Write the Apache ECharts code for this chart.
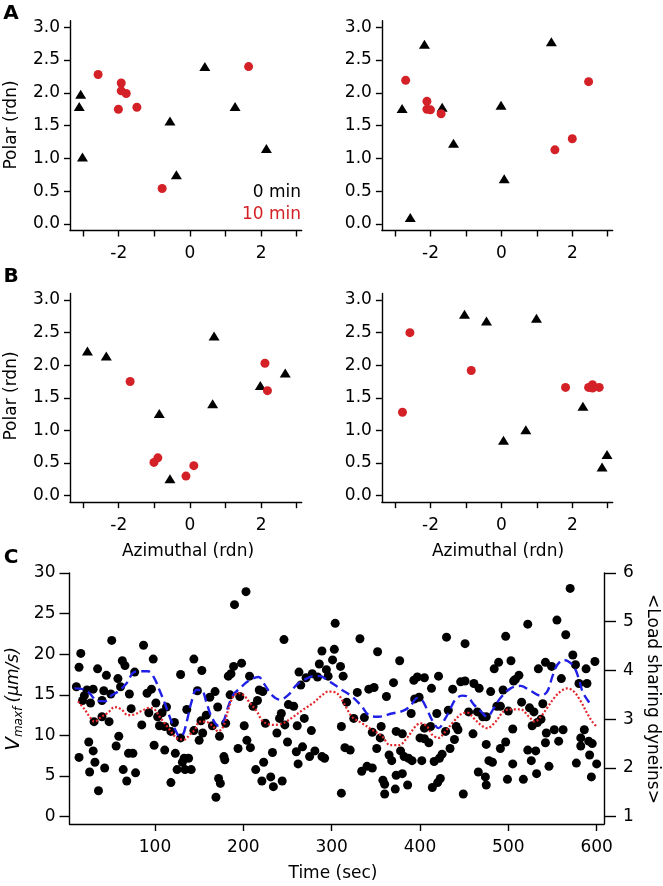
<!DOCTYPE html>
<html><head><meta charset="utf-8">
<script src="https://cdn.jsdelivr.net/npm/echarts@6/dist/echarts.min.js"></script>
<style>html,body{margin:0;padding:0;background:#fff}#c{width:663px;height:886px}</style>
</head><body><div id="c"></div>
<script>
// ---------- DATA ----------
// Panel A (left / right): [azimuthal, polar]
const aLeft0min  = [[-3.07,1.98],[-3.11,1.79],[-3.02,1.02],[0.42,2.40],[-0.56,1.57],[-0.38,0.75],[1.27,1.79],[2.15,1.15]];
const aLeft10min = [[-2.58,2.28],[-1.93,2.15],[-1.93,2.03],[-1.79,1.99],[-2.01,1.75],[-1.49,1.78],[-0.78,0.54],[1.65,2.40]];
const aRight0min  = [[-2.17,2.74],[-2.80,1.76],[-2.57,0.10],[-1.67,1.78],[-1.35,1.23],[-0.01,1.81],[0.08,0.69],[1.41,2.78]];
const aRight10min = [[-2.70,2.19],[-2.10,1.87],[-2.10,1.75],[-2.00,1.74],[-1.70,1.68],[1.51,1.13],[2.00,1.30],[2.46,2.17]];
// Panel B
const bLeft0min  = [[-2.88,2.22],[-2.35,2.14],[-0.86,1.26],[-0.56,0.26],[0.68,2.45],[0.64,1.41],[1.98,1.69],[2.68,1.88]];
const bLeft10min = [[-1.68,1.75],[-1.01,0.51],[-0.90,0.58],[-0.11,0.30],[0.11,0.46],[2.11,2.03],[2.18,1.61]];
const bRight0min  = [[-1.04,2.78],[-0.42,2.68],[0.99,2.72],[0.06,0.85],[0.69,1.01],[2.30,1.37],[2.84,0.44],[2.98,0.63]];
const bRight10min = [[-2.58,2.50],[-2.79,1.28],[-0.85,1.92],[1.81,1.66],[2.46,1.66],[2.57,1.70],[2.57,1.65],[2.76,1.66]];

const polarTicks = [0,0.5,1,1.5,2,2.5,3];
const aziTicks = [-3,-2,-1,0,1,2,3];
const aziLabels = [-2,0,2];

// Panel C: [time (sec), Vmaxf (um/s)]
const vmaxPoints = [
[51,21.7],[16,20.1],[14,18.4],[87,21.1],[98,19.4],[63,19.2],[66,18.6],[35,18.2],[45,17.4],[58,17.0],[77,17.8],[11,16.0],[23,15.6],[30,15.7],[42,15.5],[50,15.1],[61,16.0],[20,14.9],[18,14.3],[27,14.0],[40,14.3],[71,15.1],[96,15.7],[91,15.2],[73,13.3],[101,14.0],[93,12.8],[40,12.3],[31,11.7],[48,11.7],[85,11.3],[113,13.5],[108,12.8],[103,12.3],[105,11.2],[111,11.1],[122,11.6],[118,10.5],[129,17.5],[144,19.4],[153,18.0],[148,15.5],[136,13.2],[152,11.8],[144,10.6],[154,10.3],[150,9.4],[129,9.7],[25,9.2],[59,9.9],[56,8.7],[99,8.8],[111,8.2],[30,8.1],[14,7.3],[70,7.8],[75,7.8],[123,7.8],[133,7.2],[138,7.2],[32,6.7],[131,6.7],[26,5.5],[43,6.0],[64,5.8],[78,5.4],[68,4.4],[125,5.8],[134,5.8],[141,5.8],[36,3.2],[118,4.2],
[203,27.7],[190,26.1],[246,21.8],[304,23.8],[289,20.4],[303,20.6],[301,19.3],[286,18.8],[294,18.1],[296,17.3],[198,18.9],[189,18.5],[186,17.6],[183,17.3],[207,17.3],[263,17.8],[271,17.1],[278,17.6],[284,17.2],[265,16.2],[168,15.4],[162,14.7],[185,15.0],[196,14.8],[218,15.6],[222,15.4],[216,14.3],[211,13.6],[251,13.8],[257,13.6],[171,13.5],[158,12.5],[243,12.7],[241,12.1],[269,12.1],[165,11.2],[180,11.5],[201,11.2],[225,11.5],[247,11.3],[261,11.2],[277,10.6],[173,9.9],[238,10.3],[250,9.2],[204,9.4],[208,8.5],[194,8.4],[267,8.6],[260,8.0],[281,8.1],[275,7.4],[289,7.4],[292,7.2],[233,7.9],[178,7.4],[179,7.0],[223,6.7],[214,5.8],[262,6.5],[231,4.9],[221,4.4],[244,4.4],[234,3.7],[172,4.7],[174,4.1],[169,2.4],
[332,21.9],[430,22.1],[451,21.3],[352,20.3],[377,19.2],[310,18.5],[313,17.3],[370,16.5],[393,16.8],[397,17.2],[405,17.1],[421,17.3],[413,15.8],[437,15.7],[446,16.6],[451,16.7],[342,15.7],[348,15.9],[329,15.3],[362,14.8],[394,14.5],[399,14.7],[317,14.1],[390,12.7],[419,12.7],[432,13.1],[455,12.9],[337,12.2],[325,12.1],[311,11.1],[356,11.1],[346,10.4],[355,9.7],[373,10.5],[380,10.2],[405,10.9],[412,11.1],[429,10.5],[441,11.1],[443,10.7],[439,9.5],[400,9.7],[405,9.6],[410,9.1],[315,8.5],[321,8.2],[351,8.4],[378,8.1],[365,7.6],[368,6.9],[382,7.4],[387,7.2],[391,6.9],[402,6.9],[416,6.8],[422,7.2],[425,7.7],[434,8.4],[340,6.2],[346,6.0],[334,5.6],[373,5.1],[380,5.3],[358,4.5],[360,4.0],[386,3.9],[372,3.4],[423,4.7],[420,4.2],[414,3.6],[311,2.9],[360,2.8],[449,2.8],
[570,28.1],[555,24.2],[522,23.7],[565,22.4],[497,22.2],[489,19.0],[484,18.2],[503,19.2],[542,19.0],[549,18.5],[534,18.2],[573,19.9],[576,18.7],[588,18.2],[598,19.1],[560,17.0],[580,16.4],[589,16.4],[512,17.4],[508,16.9],[506,16.7],[461,16.4],[467,15.8],[480,15.4],[494,15.6],[515,14.1],[539,13.9],[524,13.4],[529,12.9],[487,13.6],[491,13.6],[500,13.0],[465,12.9],[471,12.3],[475,12.3],[537,12.0],[533,11.6],[527,11.2],[505,10.8],[460,10.2],[543,10.3],[552,10.7],[562,10.7],[586,10.7],[582,9.7],[591,9.3],[595,9.0],[542,9.1],[557,9.3],[497,9.2],[491,8.4],[475,8.9],[522,8.2],[531,8.1],[582,8.7],[592,7.6],[526,6.9],[478,6.9],[482,6.7],[505,6.5],[546,6.2],[577,6.6],[600,6.5],[466,5.5],[474,4.9],[475,3.9],[499,4.6],[517,4.6],[532,5.3],[594,4.9]
];
// curves, in left-axis units (Vmaxf scale)
const blueDashed = [[9,15.8],[18.5,15.7],[26,15.2],[33.6,14.3],[43,14.2],[50.6,14.9],[58,15.4],[67.6,16.4],[75,17.7],[81,17.9],[92,17.9],[99,17.1],[105,15.6],[111,14.0],[116.6,12.3],[122,10.9],[128,9.9],[131.7,10.1],[135.5,11.5],[141,14.0],[146.8,15.6],[152.5,15.6],[158.4,14.0],[164,12.3],[171.7,11.2],[177.3,11.7],[183,13.6],[188.6,15.0],[196,15.8],[205.6,16.7],[217,17.2],[224.5,16.2],[232,15.0],[241.5,14.4],[251,15.0],[260,16.2],[270,16.9],[279,17.3],[287,17.3],[294,16.9],[303.7,16.2],[311.7,15.6],[323,14.8],[334,13.6],[342,12.5],[353,12.3],[368,12.7],[380,13.0],[389,13.6],[396.6,14.6],[402,14.4],[408,13.2],[413.6,11.9],[421,10.9],[428.7,12.1],[434,13.2],[440,14.4],[447.6,14.9],[453.6,14.8],[461,13.8],[468.7,13.0],[476,12.3],[483.8,13.4],[491,14.6],[502.6,15.8],[514,16.1],[525,15.5],[536.6,14.9],[544,15.4],[550,17.3],[555.5,18.7],[563,19.3],[570.6,18.9],[576,18.1],[580,16.9],[584,15.4],[589.4,14.4],[595,13.6]];
const redDotted = [[12.8,14.2],[20.4,13.2],[26,12.3],[31.7,11.7],[39.3,12.3],[46.8,12.8],[54.4,13.5],[62,13.2],[69.4,12.5],[77,12.6],[84.5,13.0],[94,13.4],[99.6,13.2],[105.3,12.3],[111,11.5],[116.6,10.7],[122.3,9.9],[128,9.5],[133.6,9.5],[139.3,10.1],[145,10.7],[150.6,11.7],[156.6,11.7],[164,11.3],[171.7,10.5],[177.3,11.1],[183,13.2],[188.6,14.8],[194.3,15.2],[200,15.0],[207.5,14.0],[215,13.0],[222.6,11.7],[234,11.3],[245,11.5],[256.6,12.3],[268,13.2],[279,14.0],[288.6,14.9],[296,15.4],[306,15.2],[313.6,14.0],[323,12.3],[334.4,11.5],[345.7,10.7],[357,9.9],[366.4,8.8],[376,8.8],[385.3,9.7],[394.7,11.1],[400.4,11.5],[408,11.1],[413.6,10.1],[421,9.7],[428.7,10.5],[438,11.7],[447.6,12.7],[453.6,12.8],[461,12.1],[468.7,11.3],[476,10.9],[485.6,11.7],[495,13.0],[504.5,13.2],[514,13.2],[523.4,12.3],[529.8,11.7],[536.6,12.3],[544,13.4],[551.7,14.6],[559,15.4],[566.8,15.8],[574.3,15.4],[582,14.2],[589.4,12.7],[595,11.7],[600,11.1]];
const timeTicks = [100,200,300,400,500,600];
const vTicks = [0,5,10,15,20,25,30];
const dyneinTicks = [1,2,3,4,5,6];

// ---------- STYLE ----------
const FONT = 'DejaVu Sans';
const FS = 17;
const RED = '#d42027';
const axLine = {show:true, onZero:false, lineStyle:{color:'#000', width:1.4}};

function xAxis(grid, min, max, ticks, labels, tickLen, fmt){
  return {type:'value', gridIndex:grid, min:min, max:max,
    axisLine:axLine, splitLine:{show:false},
    axisTick:{show:true, inside:false, length:tickLen, customValues:ticks, lineStyle:{color:'#000',width:1.4}},
    axisLabel:{customValues:labels, color:'#000', fontFamily:FONT, fontSize:FS, margin:15, formatter:fmt||(v=>String(v))}};
}
function yAxis(grid, min, max, ticks, tickLen, margin, fmt, pos){
  return {type:'value', gridIndex:grid, min:min, max:max, position:pos||'left',
    axisLine:axLine, splitLine:{show:false},
    axisTick:{show:true, inside:false, length:tickLen, customValues:ticks, lineStyle:{color:'#000',width:1.4}},
    axisLabel:{customValues:ticks, color:'#000', fontFamily:FONT, fontSize:FS, margin:margin, formatter:fmt}};
}
const f1 = v => v.toFixed(1);
const f0 = v => String(Math.round(v));

const grids = [
  {left:70, top:20.7, width:231.6, height:209.8},
  {left:381.9, top:20.7, width:230.8, height:209.8},
  {left:70, top:293.5, width:231.6, height:208.7},
  {left:381.9, top:293.5, width:230.8, height:208.7},
  {left:69.5, top:573, width:534.5, height:251}
];

const xAxes = [], yAxes = [];
for (let g=0; g<4; g++){
  xAxes.push(xAxis(g, -3.37, 3.14, aziTicks, aziLabels, 6));
  yAxes.push(yAxis(g, -0.1, 3.1, polarTicks, 6, 10, f1));
}
xAxes.push(xAxis(4, 3.2, 608.3, timeTicks, timeTicks, 7));
yAxes.push(yAxis(4, -0.9, 30, vTicks, 10, 14, f0, 'left'));
yAxes.push(yAxis(4, 0.85, 6, dyneinTicks, 12, 19, f0, 'right'));

function tri(g, data){ return {type:'scatter', xAxisIndex:g, yAxisIndex:g, data:data, symbol:'triangle', symbolSize:[11,9], itemStyle:{color:'#000', opacity:1}, silent:true}; }
function circ(g, data){ return {type:'scatter', xAxisIndex:g, yAxisIndex:g, data:data, symbol:'circle', symbolSize:9, itemStyle:{color:RED, opacity:1}, silent:true}; }

const series = [
  tri(0,aLeft0min), circ(0,aLeft10min),
  tri(1,aRight0min), circ(1,aRight10min),
  tri(2,bLeft0min), circ(2,bLeft10min),
  tri(3,bRight0min), circ(3,bRight10min),
  {type:'scatter', xAxisIndex:4, yAxisIndex:4, data:vmaxPoints, symbol:'circle', symbolSize:9, itemStyle:{color:'#000', opacity:1}, silent:true, z:2},
  {type:'line', xAxisIndex:4, yAxisIndex:4, data:blueDashed, showSymbol:false, smooth:0.35, lineStyle:{color:'#1f1fe6', width:2.4, type:[9,5]}, z:3, silent:true},
  {type:'line', xAxisIndex:4, yAxisIndex:4, data:redDotted, showSymbol:false, smooth:0.35, lineStyle:{color:'#e3262b', width:2.2, type:[2,2]}, z:4, silent:true}
];

function txt(x, y, text, opts){
  return Object.assign({type:'text', x:x, y:y, silent:true,
    style:Object.assign({text:text, fill:'#000', font:FS+'px "'+FONT+'"', align:'center', verticalAlign:'middle'}, (opts&&opts.style)||{})},
    opts&&opts.rotation!==undefined?{rotation:opts.rotation}:{});
}

const graphic = [
  txt(11, 14, 'A', {style:{font:'bold 20px "'+FONT+'"'}}),
  txt(11, 277, 'B', {style:{font:'bold 20px "'+FONT+'"'}}),
  txt(11, 558, 'C', {style:{font:'bold 20px "'+FONT+'"'}}),
  txt(12, 125, 'Polar (rdn)', {rotation:Math.PI/2}),
  txt(12, 396, 'Polar (rdn)', {rotation:Math.PI/2}),
  txt(188, 552, 'Azimuthal (rdn)'),
  txt(498, 552, 'Azimuthal (rdn)'),
  txt(301, 193, '0 min', {style:{align:'right'}}),
  txt(301, 215, '10 min', {style:{align:'right', fill:RED}}),
  txt(333, 874, 'Time (sec)'),
  txt(652, 699, '<Load sharing dyneins>', {rotation:-Math.PI/2}),
  {type:'text', x:14, y:699, rotation:Math.PI/2, silent:true,
    style:{text:'{v|V}{s|maxf} {u|(μm/s)}', align:'center', verticalAlign:'middle', fill:'#000',
      rich:{
        v:{fontFamily:FONT, fontStyle:'italic', fontSize:20, fill:'#000'},
        s:{fontFamily:FONT, fontStyle:'italic', fontSize:12, fill:'#000', padding:[10,1,0,0]},
        u:{fontFamily:FONT, fontStyle:'italic', fontSize:17, fill:'#000'}
      }}}
];

const chart = echarts.init(document.getElementById('c'), null, {renderer:'canvas'});
chart.setOption({
  animation:false, backgroundColor:'#fff',
  grid:grids, xAxis:xAxes, yAxis:yAxes, series:series, graphic:graphic
});
</script></body></html>
